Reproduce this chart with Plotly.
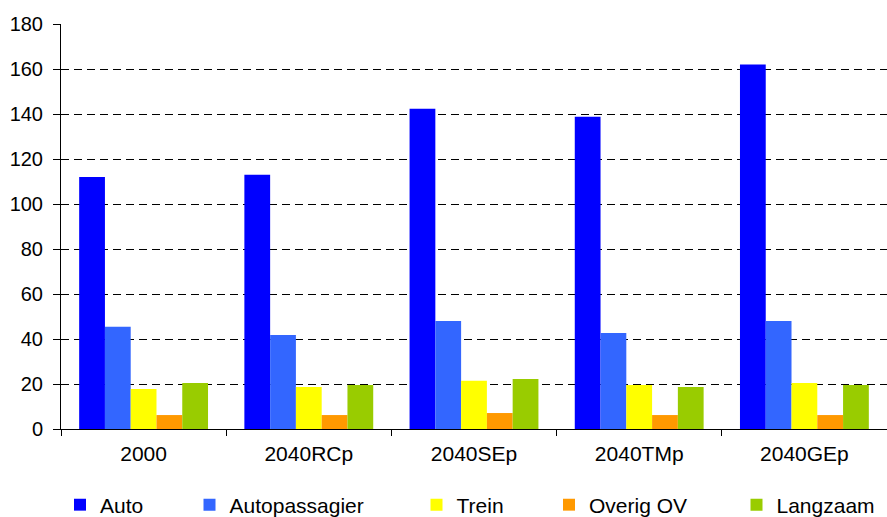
import plotly.graph_objects as go

categories = ["2000", "2040RCp", "2040SEp", "2040TMp", "2040GEp"]
series_names = ["Auto", "Autopassagier", "Trein", "Overig OV", "Langzaam"]
auto = [112, 113, 142.3, 138.8, 162]
autopassagier = [45.4, 41.8, 48, 42.7, 48]
trein = [17.8, 18.7, 21.4, 19.6, 20.5]
overig_ov = [6.2, 6.2, 7.1, 6.2, 6.2]
langzaam = [20.5, 19.6, 22.2, 18.7, 19.6]
colors = ["#0000FF", "#3366FF", "#FFFF00", "#FF9900", "#99CC00"]
y_ticks = [0, 20, 40, 60, 80, 100, 120, 140, 160, 180]

values = [auto, autopassagier, trein, overig_ov, langzaam]
FONT = "Arial, Liberation Sans, sans-serif"

W, H = 887, 517
ML, MR, MT, MB = 61, 0, 24, 88

# legend square centre positions in pixels
legend_px = [80, 209.5, 436.5, 569, 756.5]

fig = go.Figure()
for i, (name, vals, col) in enumerate(zip(series_names, values, colors)):
    lg = "legend" if i == 0 else f"legend{i+1}"
    fig.add_trace(go.Bar(
        x=categories, y=vals, name=name, marker_color=col,
        marker_line_width=0, legend=lg,
    ))

layout_legends = {}
for i, px in enumerate(legend_px):
    key = "legend" if i == 0 else f"legend{i+1}"
    layout_legends[key] = dict(
        xref="container", yref="container",
        x=(px - 20) / W, xanchor="left",
        y=1 - 505 / H, yanchor="middle",
        orientation="h", font=dict(family=FONT, size=21, color="black"),
        bgcolor="rgba(0,0,0,0)", borderwidth=0,
        traceorder="normal",
    )

fig.update_layout(
    width=W, height=H,
    margin=dict(l=ML, r=MR, t=MT, b=MB, pad=0, autoexpand=False),
    paper_bgcolor="white", plot_bgcolor="white",
    barmode="group", bargap=0.22, bargroupgap=0,
    showlegend=True,
    font=dict(family=FONT, color="black"),
    **layout_legends,
)

fig.update_yaxes(
    range=[0, 180], tickvals=y_ticks, showline=True, linecolor="black", linewidth=1,
    ticks="outside", ticklen=7, tickcolor="black", tickwidth=1,
    showgrid=True, gridcolor="black", gridwidth=1, griddash="8px,5px",
    zeroline=False, tickfont=dict(family=FONT, size=20, color="black"),
    ticklabelstandoff=6,
)
fig.update_xaxes(
    showline=True, linecolor="black", linewidth=1,
    ticks="outside", tickson="boundaries", ticklen=6, tickcolor="black",
    tickfont=dict(family=FONT, size=21, color="black"),
    showgrid=False, ticklabelstandoff=6,
)

fig.write_html("out.html")
